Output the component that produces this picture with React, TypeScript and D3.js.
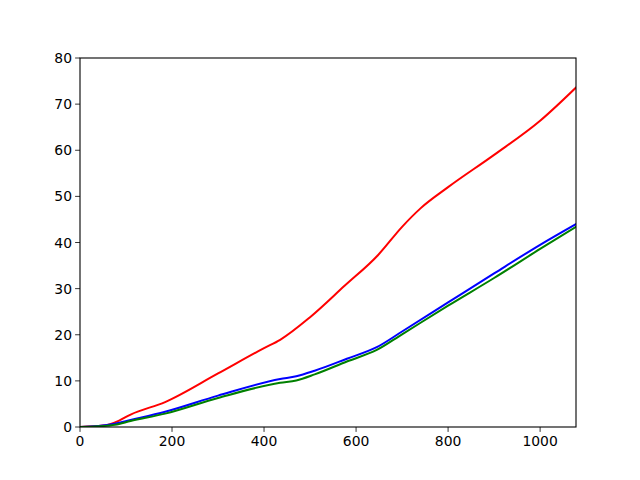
import React from "react";
import * as d3 from "d3";

const xTicks = [0, 200, 400, 600, 800, 1000];
const yTicks = [0, 10, 20, 30, 40, 50, 60, 70, 80];

const redX = [0, 50, 85, 110, 185, 300, 400, 435, 500, 575, 648, 700, 740, 800, 900, 1000, 1078];
const redY = [0, 0.3, 1.4, 2.7, 5.4, 11.6, 17.1, 18.9, 23.8, 30.6, 37.3, 43.4, 47.4, 52.0, 59.0, 66.4, 73.6];

const blueX = [0, 40, 76, 110, 185, 300, 435, 470, 510, 580, 645, 700, 800, 900, 1000, 1078];
const blueY = [0, 0.2, 0.7, 1.5, 3.3, 6.8, 10.4, 11.0, 12.2, 14.8, 17.3, 20.7, 27.0, 33.3, 39.5, 44.0];

const greenX = [0, 40, 76, 110, 185, 300, 435, 470, 510, 580, 645, 700, 800, 900, 1000, 1078];
const greenY = [0, 0.15, 0.5, 1.3, 2.9, 6.3, 9.6, 10.1, 11.4, 14.2, 16.7, 20.1, 26.3, 32.3, 38.6, 43.4];

const W = 640, H = 480;
const L = 80, R = 576, T = 58, B = 427;

export default function App() {
  const x = d3.scaleLinear().domain([0, 1078]).range([L, R]);
  const y = d3.scaleLinear().domain([0, 80]).range([B, T]);
  const line = d3
    .line<[number, number]>()
    .x((d) => x(d[0]))
    .y((d) => y(d[1]))
    .curve(d3.curveMonotoneX);
  const series = [
    { xs: redX, ys: redY, color: "#ff0000" },
    { xs: blueX, ys: blueY, color: "#0000ff" },
    { xs: greenX, ys: greenY, color: "#008000" },
  ];
  const font = "'DejaVu Sans', sans-serif";
  return (
    <svg width={W} height={H} style={{ position: "absolute", left: 0, top: 0, background: "#fff" }}>
      <rect x={0} y={0} width={W} height={H} fill="#fff" />
      <defs>
        <clipPath id="plot">
          <rect x={L} y={T} width={R - L} height={B - T} />
        </clipPath>
      </defs>
      <g clipPath="url(#plot)">
        {series.map((s, i) => (
          <path
            key={i}
            d={line(s.xs.map((v, j) => [v, s.ys[j]]) as [number, number][]) || ""}
            fill="none"
            stroke={s.color}
            strokeWidth={2}
            strokeLinejoin="round"
            strokeLinecap="square"
          />
        ))}
      </g>
      <rect x={L} y={T} width={R - L} height={B - T} fill="none" stroke="#000" strokeWidth={1.1} />
      {xTicks.map((t) => (
        <g key={"x" + t}>
          <line x1={x(t)} x2={x(t)} y1={B} y2={B + 4.9} stroke="#000" strokeWidth={0.8} />
          <text x={x(t)} y={B + 19} textAnchor="middle" fontFamily={font} fontSize={13.9} fill="#000">
            {t}
          </text>
        </g>
      ))}
      {yTicks.map((t) => (
        <g key={"y" + t}>
          <line x1={L - 4.9} x2={L} y1={y(t)} y2={y(t)} stroke="#000" strokeWidth={0.8} />
          <text x={L - 8} y={y(t) + 5} textAnchor="end" fontFamily={font} fontSize={13.9} fill="#000">
            {t}
          </text>
        </g>
      ))}
    </svg>
  );
}
